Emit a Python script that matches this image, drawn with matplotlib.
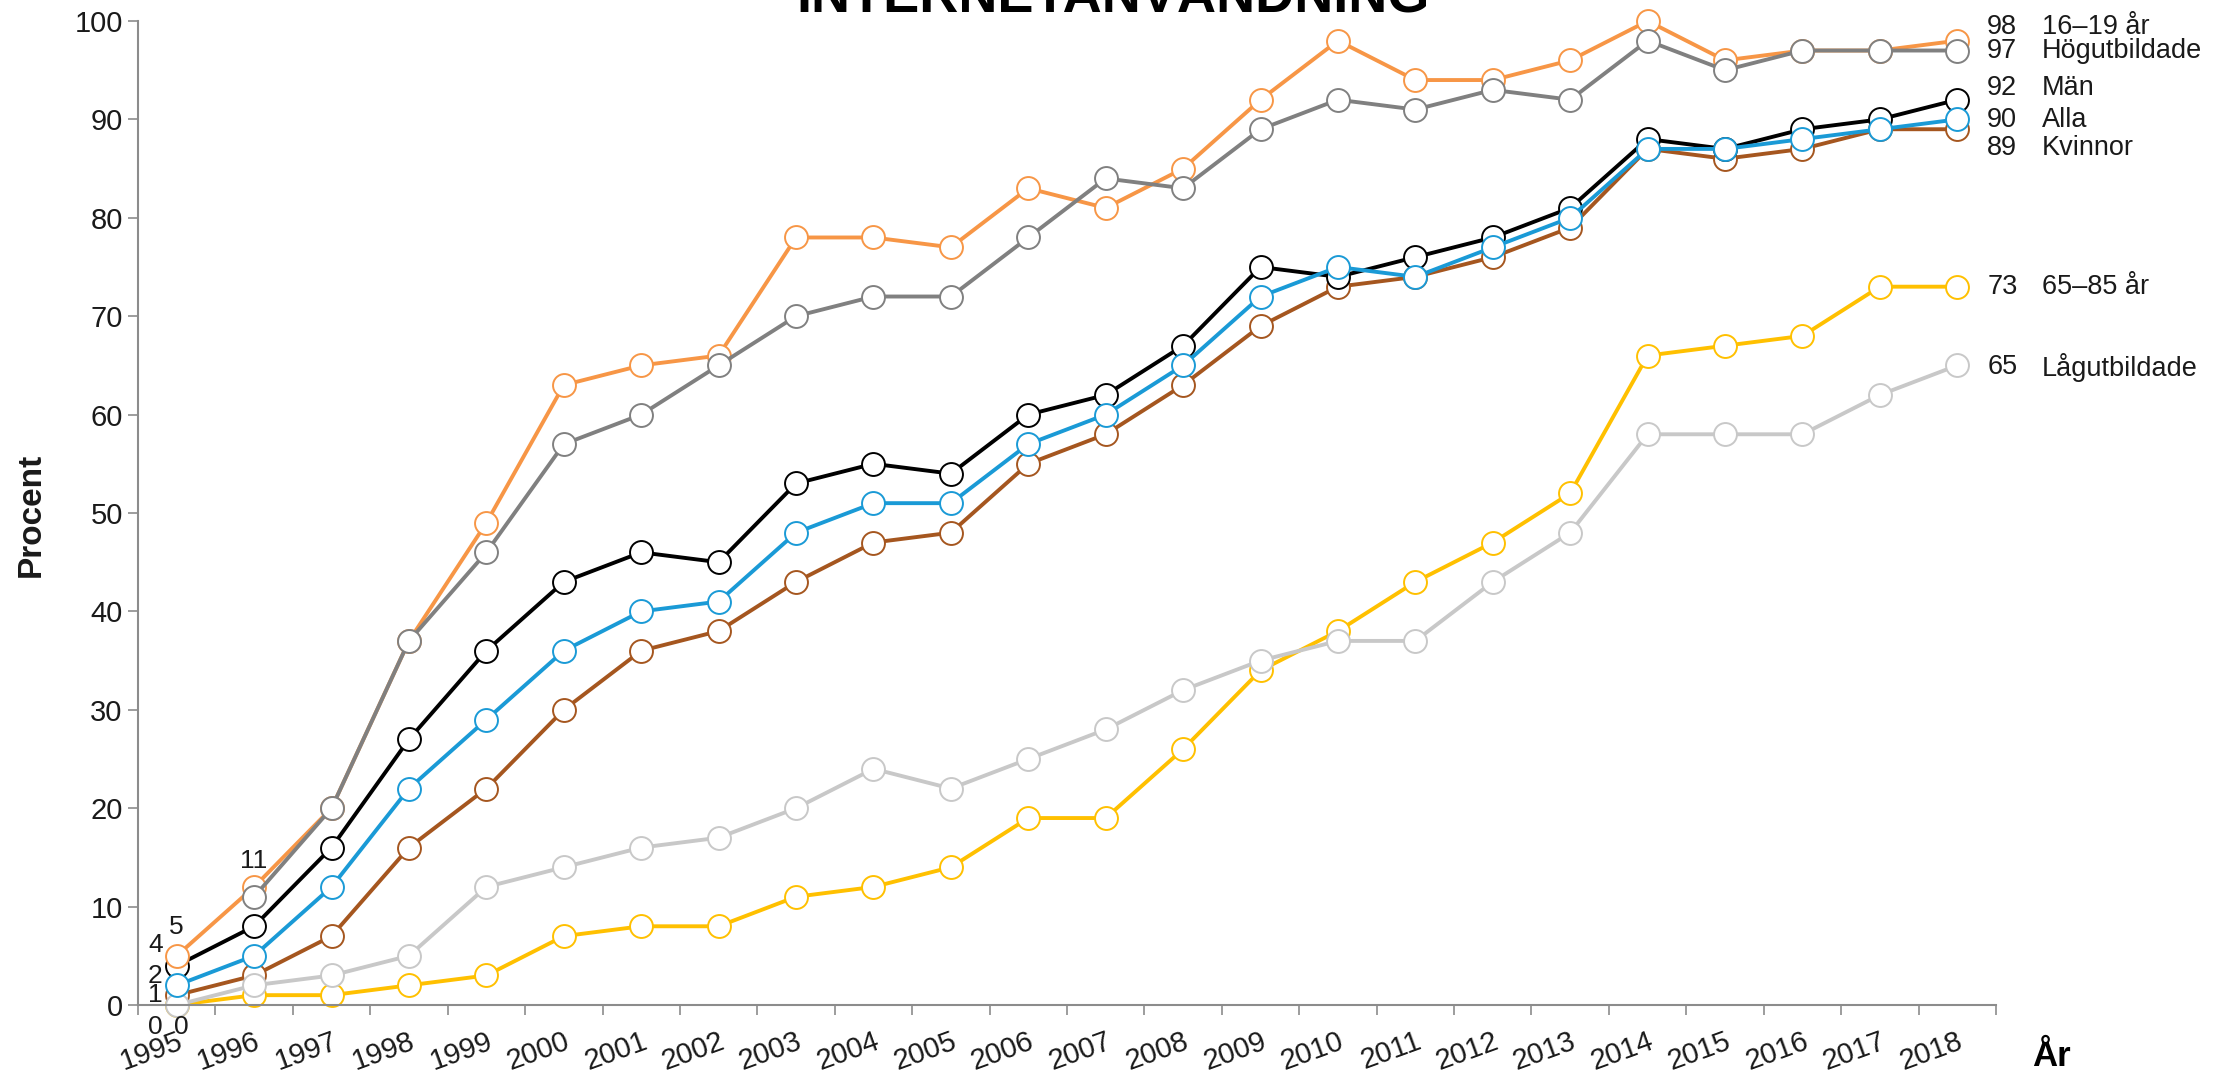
import matplotlib
matplotlib.use("Agg")
import matplotlib.pyplot as plt
from matplotlib import font_manager as fm
import numpy as np

# ---------------- data ----------------
years = [str(y) for y in range(1995, 2019)]

series_names = ["65–85 år", "Kvinnor", "Lågutbildade", "Män", "Alla", "16–19 år", "Högutbildade"]

v_65_85 = [0, 1, 1, 2, 3, 7, 8, 8, 11, 12, 14, 19, 19, 26, 34, 38, 43, 47, 52, 66, 67, 68, 73, 73]
v_kvinnor = [1, 3, 7, 16, 22, 30, 36, 38, 43, 47, 48, 55, 58, 63, 69, 73, 74, 76, 79, 87, 86, 87, 89, 89]
v_lagutb = [0, 2, 3, 5, 12, 14, 16, 17, 20, 24, 22, 25, 28, 32, 35, 37, 37, 43, 48, 58, 58, 58, 62, 65]
v_man = [4, 8, 16, 27, 36, 43, 46, 45, 53, 55, 54, 60, 62, 67, 75, 74, 76, 78, 81, 88, 87, 89, 90, 92]
v_alla = [2, 5, 12, 22, 29, 36, 40, 41, 48, 51, 51, 57, 60, 65, 72, 75, 74, 77, 80, 87, 87, 88, 89, 90]
v_16_19 = [5, 12, 20, 37, 49, 63, 65, 66, 78, 78, 77, 83, 81, 85, 92, 98, 94, 94, 96, 100, 96, 97, 97, 98]
v_hogutb = [None, 11, 20, 37, 46, 57, 60, 65, 70, 72, 72, 78, 84, 83, 89, 92, 91, 93, 92, 98, 95, 97, 97, 97]

series_values = [v_65_85, v_kvinnor, v_lagutb, v_man, v_alla, v_16_19, v_hogutb]
colors = ["#FFC000", "#A5561F", "#C8C8C8", "#000000", "#1A9AD6", "#F79646", "#808080"]

# layout of end labels (y position in data units) and first-value labels (offsets in points)
end_label_y = [73, 87.1, 64.8, 93.2, 89.9, 99.4, 97.0]
first_label_off = [(3, -16, "center"), (-10, 0, "right"), (-10, -16, "right"), (-10, 15, "right"),
                   (-10, 7, "right"), (0, 21, "center"), (0, 26, "center")]

# ---------------- fonts ----------------
def have(name):
    try:
        fm.findfont(fm.FontProperties(family=name), fallback_to_default=False)
        return True
    except Exception:
        return False

sans = "Liberation Sans" if have("Liberation Sans") else "DejaVu Sans"
plt.rcParams["font.family"] = [sans, "DejaVu Sans"]

W, H = 2224, 1076
fig = plt.figure(figsize=(W / 100, H / 100), dpi=100)
ax = fig.add_axes([138 / W, 1 - 1005 / H, (1996 - 138) / W, (1005 - 21) / H])

x = np.arange(len(years))
for vals, col, name, ly, (ox, oy, ha) in zip(series_values, colors, series_names, end_label_y, first_label_off):
    y = np.array([np.nan if v is None else v for v in vals], dtype=float)
    ax.plot(x, y, color=col, lw=2.8, marker="o", ms=16.5, mfc="white", mec=col, mew=1.4,
            clip_on=False, solid_joinstyle="round")
    i0 = int(np.where(~np.isnan(y))[0][0])
    ax.annotate(f"{int(y[i0])}", xy=(x[i0], y[i0]), xytext=(ox, oy), textcoords="offset points",
                ha=ha, va="center", fontsize=19, color="#1a1a1a", annotation_clip=False)
    xl = x[-1]
    ax.annotate(f"{int(y[-1])}", xy=(xl, ly), xytext=(21.5, 0), textcoords="offset points",
                ha="left", va="center", fontsize=19.5, color="#1a1a1a", annotation_clip=False)
    ax.annotate(name, xy=(xl, ly), xytext=(61, 0), textcoords="offset points",
                ha="left", va="center", fontsize=19.5, color="#1a1a1a", annotation_clip=False)

ax.set_xlim(-0.5, len(years) - 0.5)
ax.set_ylim(0, 100)
ax.set_yticks(np.arange(0, 101, 10))
ax.set_xticks(x)
ax.set_xticklabels(years, rotation=20, ha="right", va="top", rotation_mode="anchor",
                   fontsize=21, color="#1a1a1a")
ax.set_xticks(np.arange(-0.5, len(years), 1.0), minor=True)
ax.tick_params(axis="x", which="major", length=0, pad=16)
ax.tick_params(axis="x", which="minor", length=7, width=1.2, color="#8c8c8c")
ax.tick_params(axis="y", length=7, width=1.2, color="#8c8c8c", pad=4)
for lab in ax.get_yticklabels():
    lab.set_fontsize(21)
    lab.set_color("#1a1a1a")

for s in ["top", "right"]:
    ax.spines[s].set_visible(False)
for s in ["left", "bottom"]:
    ax.spines[s].set_color("#8c8c8c")
    ax.spines[s].set_linewidth(1.5)

fig.text(31 / W, 1 - 515 / H, "Procent", rotation=90, ha="center", va="center",
         fontsize=24, fontweight="bold", color="#1a1a1a")
fig.text(2032 / W, 1 - 1057 / H, "År", ha="left", va="center",
         fontsize=25, fontweight="bold", color="#000000")
fig.text(1113 / W, 1 - 11 / H, "INTERNETANVÄNDNING", ha="center", va="baseline",
         fontsize=39, fontweight="bold", color="#000000")

fig.savefig("out.png", dpi=100)
